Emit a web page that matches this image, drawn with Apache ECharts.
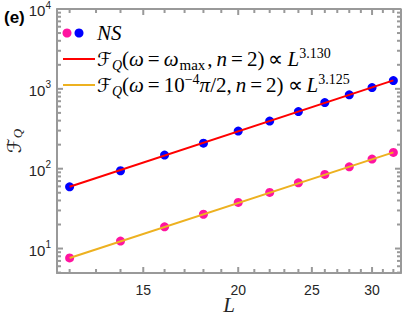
<!DOCTYPE html>
<html><head><meta charset="utf-8">
<script src="https://cdn.jsdelivr.net/npm/echarts@6/dist/echarts.min.js"></script>
<style>html,body{margin:0;padding:0;background:#fff}#c{width:407px;height:316px}</style>
</head><body><div id="c"></div>
<script>
// ---- data ----
const L = [12, 14, 16, 18, 20, 22, 24, 26, 28, 30, 32];
const fqMax = [59.3, 94.2, 148, 209, 296, 395, 519, 673, 841, 1038, 1271];
const fqSmall = [7.62, 12.4, 18.7, 26.9, 37.8, 50.5, 66.6, 84.8, 105.6, 131.8, 160];
const fitL = [12, 32];
const fitMax = [59.3, 1275];
const fitSmall = [7.6, 160];
const xMajorTicks = [15, 20, 25, 30];
const xMinorTicks = [12, 13, 14, 16, 17, 18, 19, 21, 22, 23, 24, 26, 27, 28, 29, 31, 32];
const yMajorTicks = [10, 100, 1000, 10000];
const yMinorTicks = [5, 6, 7, 8, 9, 20, 30, 40, 50, 60, 70, 80, 90, 200, 300, 400, 500, 600, 700, 800, 900, 2000, 3000, 4000, 5000, 6000, 7000, 8000, 9000];

const X_MIN = 11.55, X_MAX = 32.75, Y_MIN = 4.94, Y_MAX = 10000;
const TXT = '#262626';
const AXC = '#999999';
const serif = 'Liberation Serif';

const chart = echarts.init(document.getElementById('c'), null, {renderer: 'svg'});

// tick marks drawn as scatter symbols placed on the axis values
function xTickItems(vals, len) {
  return [].concat(
    vals.map(v => ({value: [v, Y_MIN], symbolSize: [2, len], symbolOffset: [0, -len / 2]})),
    vals.map(v => ({value: [v, Y_MAX], symbolSize: [2, len], symbolOffset: [0, len / 2]}))
  );
}
function yTickItems(vals, len) {
  return [].concat(
    vals.map(v => ({value: [X_MIN, v], symbolSize: [len, 2], symbolOffset: [len / 2, 0]})),
    vals.map(v => ({value: [X_MAX, v], symbolSize: [len, 2], symbolOffset: [-len / 2, 0]}))
  );
}
const tickData = [].concat(xTickItems(xMajorTicks, 6), xTickItems(xMinorTicks, 4),
                           yTickItems(yMajorTicks, 6), yTickItems(yMinorTicks, 4));
const frameData = [[X_MIN, Y_MIN], [X_MAX, Y_MIN], [X_MAX, Y_MAX], [X_MIN, Y_MAX], [X_MIN, Y_MIN]];

const pts = (xv, yv) => xv.map((x, i) => [x, yv[i]]);

const FS = 21, SS = 14, LH = 26;
const richLeg = {
  f: {fontFamily: 'DejaVu Sans', fontSize: 19, color: '#000', lineHeight: LH, verticalAlign: 'middle'},
  n: {fontFamily: serif, fontSize: FS, color: '#000', lineHeight: LH, verticalAlign: 'middle'},
  i: {fontFamily: serif, fontSize: FS, fontStyle: 'italic', color: '#000', lineHeight: LH, verticalAlign: 'middle'},
  r: {fontFamily: serif, fontSize: FS, color: '#000', lineHeight: LH, verticalAlign: 'middle', padding: [0, 4, 0, 4]},
  c: {fontFamily: serif, fontSize: FS, color: '#000', lineHeight: LH, verticalAlign: 'middle', padding: [0, 4, 0, 0]},
  sb: {fontFamily: serif, fontSize: SS, fontStyle: 'italic', color: '#000', lineHeight: LH, verticalAlign: 'bottom'},
  sm: {fontFamily: serif, fontSize: 15, color: '#000', lineHeight: LH, verticalAlign: 'bottom', padding: [0, 2, 0, 1]},
  sp: {fontFamily: serif, fontSize: SS, color: '#000', lineHeight: LH, verticalAlign: 'top'}
};

chart.setOption({
  animation: false,
  grid: {left: 57, right: 6, top: 9, bottom: 43, containLabel: false, outerBoundsMode: 'none'},
  xAxis: {
    type: 'log', min: X_MIN, max: X_MAX, position: 'bottom',
    axisLine: {show: true, onZero: false, lineStyle: {color: AXC, width: 2}},
    axisTick: {show: false}, splitLine: {show: false}, minorTick: {show: false},
    axisLabel: {customValues: xMajorTicks, color: TXT, fontSize: 14, fontFamily: 'Liberation Sans', margin: 10},
    name: 'L', nameLocation: 'middle', nameGap: 22, nameMoveOverlap: false,
    nameTextStyle: {fontFamily: serif, fontStyle: 'italic', fontSize: 21, lineHeight: 20, color: TXT}
  },
  yAxis: {
    type: 'log', min: Y_MIN, max: Y_MAX, position: 'left',
    axisLine: {show: true, onZero: false, lineStyle: {color: AXC, width: 2}},
    axisTick: {show: false}, splitLine: {show: false}, minorTick: {show: false},
    axisLabel: {
      customValues: yMajorTicks, margin: 6,
      formatter: v => '{b|10}{s|' + Math.round(Math.log10(v)) + '}',
      rich: {
        b: {fontSize: 15, color: TXT, fontFamily: 'Liberation Sans', lineHeight: 18, verticalAlign: 'bottom'},
        s: {fontSize: 10, color: TXT, fontFamily: 'Liberation Sans', lineHeight: 18, verticalAlign: 'top'}
      }
    },
    name: '{f|ℱ}{q|Q}', nameLocation: 'middle', nameGap: 33, nameRotate: 90, nameMoveOverlap: false,
    nameTextStyle: {
      rich: {
        f: {fontFamily: 'DejaVu Sans', fontSize: 19, color: TXT, lineHeight: 20, verticalAlign: 'top'},
        q: {fontFamily: serif, fontStyle: 'italic', fontSize: 13, color: TXT, lineHeight: 20, verticalAlign: 'bottom'}
      }
    }
  },
  series: [
    {type: 'line', data: frameData, showSymbol: false, symbol: 'none', clip: false, silent: true,
     lineStyle: {color: AXC, width: 2}, z: 1},
    {type: 'scatter', data: tickData, symbol: 'rect', clip: false, silent: true,
     itemStyle: {color: AXC, opacity: 1}, z: 1},
    {type: 'scatter', data: pts(L, fqSmall), symbolSize: 9, itemStyle: {color: '#ff14a0', opacity: 1}, z: 2},
    {type: 'scatter', data: pts(L, fqMax), symbolSize: 9, itemStyle: {color: '#0000ff', opacity: 1}, z: 2},
    {type: 'line', data: pts(fitL, fitMax), showSymbol: false, symbol: 'none', lineStyle: {color: '#ff0000', width: 2}, z: 3},
    {type: 'line', data: pts(fitL, fitSmall), showSymbol: false, symbol: 'none', lineStyle: {color: '#edb120', width: 2}, z: 3}
  ],
  graphic: [
    {id: 'lab', type: 'text', x: 4, y: 9, style: {text: '(e)', font: 'bold 17px "Liberation Sans"', fill: '#000'}},
    {id: 'd1', type: 'circle', x: 67, y: 33, shape: {cx: 0, cy: 0, r: 4.5}, style: {fill: '#ff14a0'}},
    {id: 'd2', type: 'circle', x: 79, y: 33, shape: {cx: 0, cy: 0, r: 4.5}, style: {fill: '#0000ff'}},
    {id: 't1', type: 'text', x: 97, y: 33, style: {text: '{i|NS}', rich: richLeg, verticalAlign: 'middle'}},
    {id: 'l2', type: 'line', x: 63, y: 59, shape: {x1: 0, y1: 0, x2: 32, y2: 0}, style: {stroke: '#ff0000', lineWidth: 2}},
    {id: 't2', type: 'text', x: 97, y: 59, style: {
      text: '{f|ℱ}{sb|Q}{n|(}{i|ω}{r|=}{i|ω}{sm|max}{c|,}{i|n}{r|=}{n|2)}{r|∝}{i|L}{sp|3.130}',
      rich: richLeg, verticalAlign: 'middle'}},
    {id: 'l3', type: 'line', x: 63, y: 85, shape: {x1: 0, y1: 0, x2: 32, y2: 0}, style: {stroke: '#edb120', lineWidth: 2}},
    {id: 't3', type: 'text', x: 97, y: 85, style: {
      text: '{f|ℱ}{sb|Q}{n|(}{i|ω}{r|=}{n|10}{sp|−4}{i|π}{n|/2}{c|,}{i|n}{r|=}{n|2)}{r|∝}{i|L}{sp|3.125}',
      rich: richLeg, verticalAlign: 'middle'}}
  ]
});
</script></body></html>
